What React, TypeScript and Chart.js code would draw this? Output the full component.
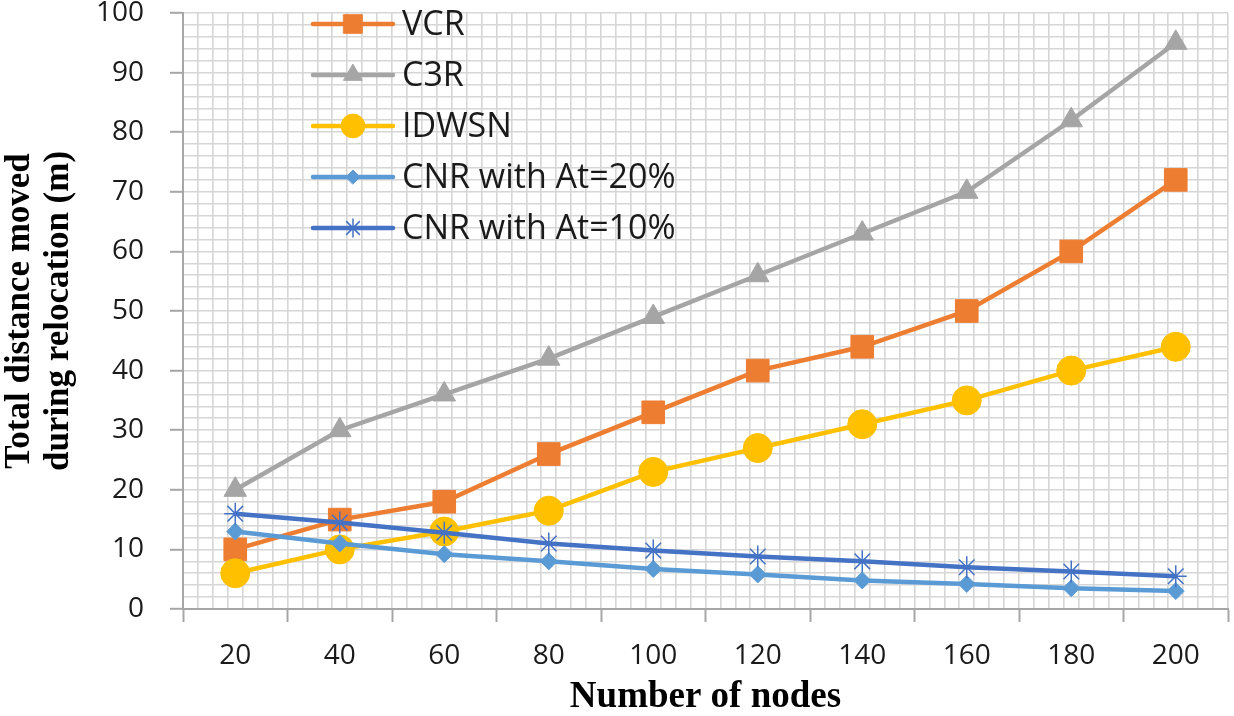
import React, { useEffect, useRef } from "react";
import { Chart, registerables } from "chart.js";
import { drawPoint } from "chart.js/helpers";

Chart.register(...registerables);

const categories = ["20", "40", "60", "80", "100", "120", "140", "160", "180", "200"];
const vcr = [10, 15, 18, 26, 33, 40, 44, 50, 60, 72];
const c3r = [20, 30, 36, 42, 49, 56, 63, 70, 82, 95];
const idwsn = [6, 10, 13, 16.5, 23, 27, 31, 35, 40, 44];
const cnr20 = [13, 11, 9.2, 8, 6.7, 5.8, 4.8, 4.2, 3.5, 3];
const cnr10 = [16, 14.5, 12.8, 11, 9.8, 8.8, 8, 7, 6.3, 5.5];
const seriesNames = ["VCR", "C3R", "IDWSN", "CNR with At=20%", "CNR with At=10%"];
const yMin = 0;
const yMax = 100;
const yMajorStep = 10;
const yMinorStep = 2;
const xMinorPerCategory = 7;

const legendPlugin = {
  id: "lineMarkerLegend",
  afterDatasetsDraw(chart: any) {
    const { ctx, chartArea } = chart;
    const x0 = chartArea.left + 130;
    const y0 = chartArea.top + 11;
    const rowH = 51;
    const lineLen = 80;
    ctx.save();
    chart.data.datasets.forEach((ds: any, i: number) => {
      const y = y0 + i * rowH;
      ctx.strokeStyle = ds.borderColor;
      ctx.lineWidth = ds.borderWidth;
      ctx.lineCap = "round";
      ctx.beginPath();
      ctx.moveTo(x0, y);
      ctx.lineTo(x0 + lineLen, y);
      ctx.stroke();
      ctx.fillStyle = ds.pointBackgroundColor;
      ctx.strokeStyle = ds.pointBorderColor;
      ctx.lineWidth = ds.pointBorderWidth;
      drawPoint(
        ctx,
        {
          pointStyle: ds.pointStyle,
          radius: ds.pointRadius * 0.82,
          rotation: 0,
          borderWidth: ds.pointBorderWidth,
        } as any,
        x0 + lineLen / 2,
        y
      );
      ctx.fillStyle = "#1a1a1a";
      ctx.font = '34px "Open Sans"';
      ctx.textAlign = "left";
      ctx.textBaseline = "middle";
      ctx.fillText(ds.label, x0 + lineLen + 9, y + 1);
    });
    ctx.restore();
  },
};

const zeroPad = (s: any) => {
  s.paddingTop = 0;
  s.paddingBottom = 0;
  s.paddingLeft = 0;
  s.paddingRight = 0;
};

export default function App() {
  const ref = useRef<HTMLCanvasElement>(null);
  useEffect(() => {
    if (!ref.current) return;
    const mk = (
      label: string,
      data: number[],
      color: string,
      pointStyle: string,
      radius: number,
      order: number,
      pbw = 1
    ) => ({
      label,
      data,
      xAxisID: "x",
      yAxisID: "y",
      borderColor: color,
      backgroundColor: color,
      borderWidth: 4.5,
      pointStyle,
      pointRadius: radius,
      pointHoverRadius: radius,
      pointBackgroundColor: color,
      pointBorderColor: color,
      pointBorderWidth: pbw,
      tension: 0,
      order,
    });
    const chart = new Chart(ref.current, {
      type: "line",
      data: {
        labels: categories,
        datasets: [
          mk(seriesNames[0], vcr, "#ED7D31", "rect", 16, 5),
          mk(seriesNames[1], c3r, "#A5A5A5", "triangle", 13, 4),
          mk(seriesNames[2], idwsn, "#FFC000", "circle", 14.5, 3),
          mk(seriesNames[3], cnr20, "#5B9BD5", "rectRot", 8.5, 2),
          mk(seriesNames[4], cnr10, "#4472C4", "star", 11, 1, 1.5),
        ] as any,
      },
      options: {
        animation: false,
        responsive: true,
        maintainAspectRatio: false,
        layout: { padding: { left: 0, right: 0, top: 0, bottom: 0 } },
        plugins: {
          legend: { display: false },
          tooltip: { enabled: false },
        },
        scales: {
          x: {
            type: "category",
            offset: true,
            grid: {
              display: true,
              drawOnChartArea: false,
              offset: true,
              tickLength: 13,
              tickColor: "#a6a6a6",
              tickWidth: 2,
            },
            border: { color: "#a6a6a6", width: 2, z: 1 },
            ticks: {
              color: "#1a1a1a",
              font: { family: "Open Sans", size: 28 },
              padding: 17,
              maxRotation: 0,
              autoSkip: false,
            },
            title: {
              display: true,
              text: "Number of nodes",
              color: "#000",
              font: { family: "Liberation Serif", size: 37, weight: "bold", lineHeight: 1 },
              padding: { top: 0, bottom: 0 },
            },
            afterFit: (s: any) => {
              s.height = 107;
              zeroPad(s);
            },
          },
          xg: {
            type: "linear",
            position: "bottom",
            min: 0,
            max: categories.length * xMinorPerCategory,
            ticks: { display: false, stepSize: 1, maxTicksLimit: 200 },
            grid: { color: "#d6d6d6", lineWidth: 1.6, drawTicks: false },
            border: { display: false },
            afterFit: (s: any) => {
              s.height = 0;
              zeroPad(s);
            },
          },
          y: {
            type: "linear",
            min: yMin,
            max: yMax,
            ticks: {
              stepSize: yMinorStep,
              maxTicksLimit: 200,
              autoSkip: false,
              color: "#1a1a1a",
              font: { family: "Open Sans", size: 28 },
              padding: 26,
              callback: (v: any) => (Number(v) % yMajorStep === 0 ? String(v) : ""),
            },
            grid: {
              color: "#d6d6d6",
              lineWidth: 1.6,
              tickLength: 13,
              tickWidth: 2,
              tickColor: (c: any) =>
                c.tick && c.tick.value % yMajorStep === 0 ? "#a6a6a6" : "rgba(0,0,0,0)",
            },
            border: { color: "#a6a6a6", width: 2, z: 1 },
            title: {
              display: true,
              text: ["Total distance moved", "during relocation (m)"],
              color: "#000",
              font: { family: "Liberation Serif", size: 35, weight: "bold", lineHeight: 1.12 },
              padding: { top: 0, bottom: 0 },
            },
            afterFit: (s: any) => {
              s.width = 183;
              zeroPad(s);
            },
          },
        },
      } as any,
      plugins: [legendPlugin],
    });
    return () => chart.destroy();
  }, []);
  return (
    <div style={{ position: "absolute", left: 0, top: -4, width: 1245, height: 720, background: "#fff" }}>
      <canvas ref={ref} />
    </div>
  );
}
